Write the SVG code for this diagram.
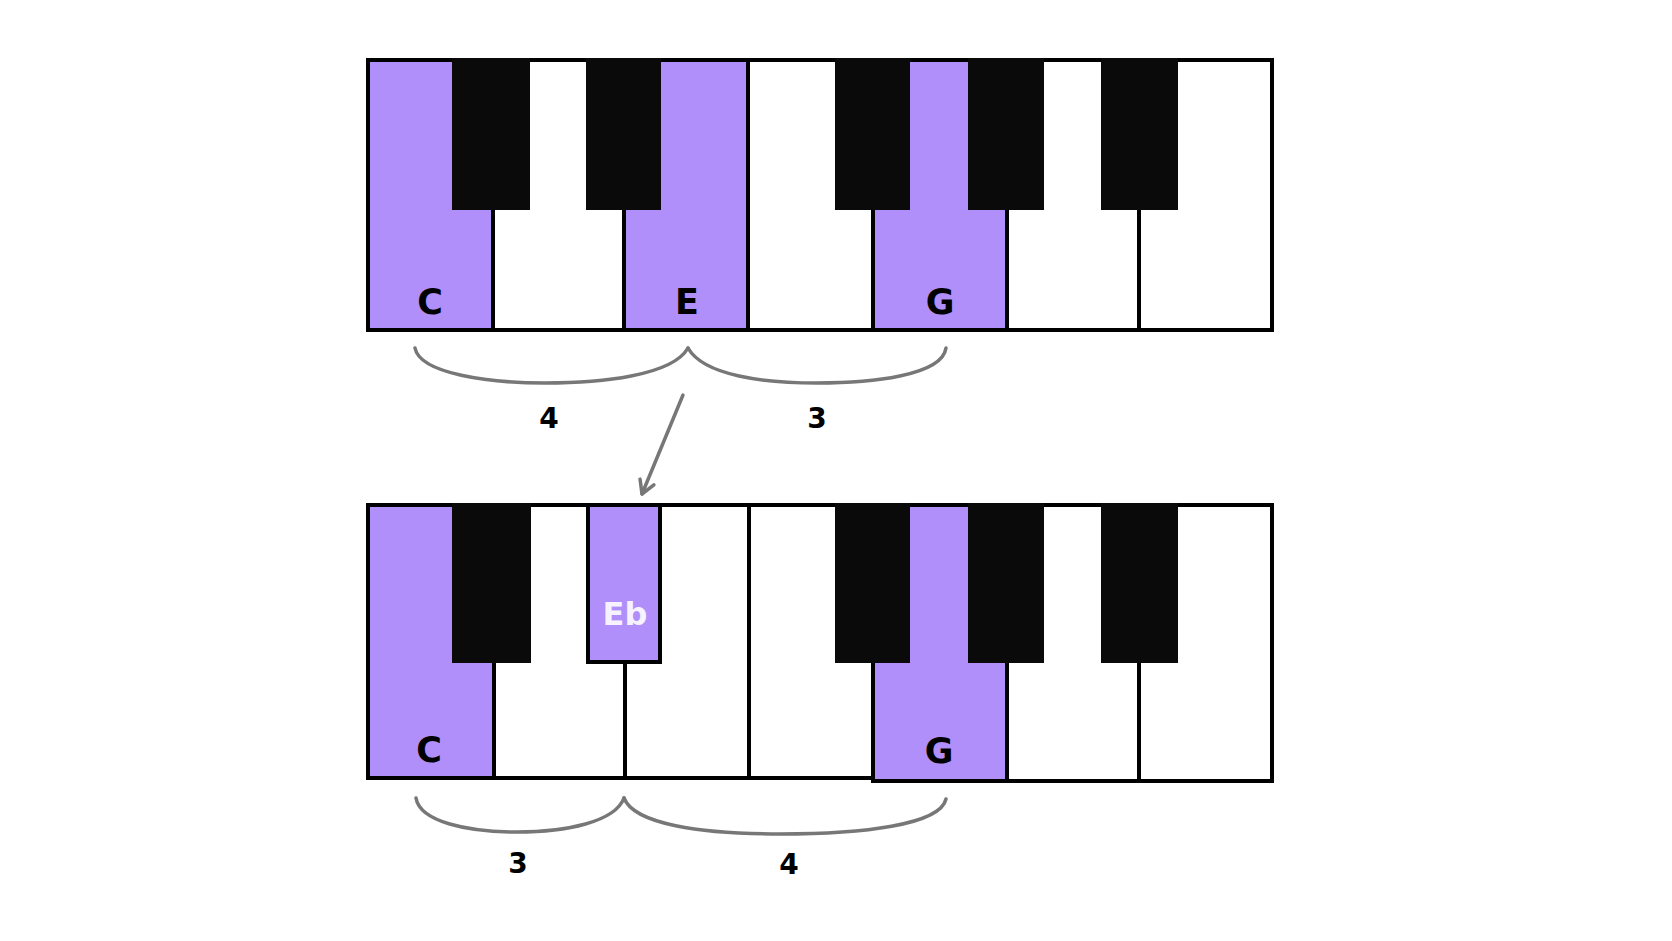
<svg xmlns="http://www.w3.org/2000/svg" width="1672" height="941" viewBox="0 0 1672 941">
<style>
.w{fill:#ffffff;stroke:#000;stroke-width:4}
.p{fill:#b08ffa;stroke:#000;stroke-width:4}
.b{fill:#0a0a0a}
.brace{fill:none;stroke:#777;stroke-width:3.5;stroke-linecap:round}
.note{font-family:"DejaVu Sans",sans-serif;font-weight:bold;font-size:35px;fill:#000;text-anchor:middle}
.num{font-family:"DejaVu Sans",sans-serif;font-weight:bold;font-size:28px;fill:#000;text-anchor:middle}
.eb{font-family:"DejaVu Sans",sans-serif;font-weight:bold;font-size:32px;fill:#f6f2ff;text-anchor:middle}
</style>
<defs>
<marker id="ah" markerUnits="userSpaceOnUse" viewBox="-18 -12 22 24" markerWidth="22" markerHeight="24" refX="0" refY="0" orient="auto" overflow="visible">
<path d="M-13,-7.5 L0,0 L-13,7.5" fill="none" stroke="#777" stroke-width="3.5" stroke-linecap="round" stroke-linejoin="round"/>
</marker>
</defs>
<rect width="1672" height="941" fill="#fff"/>

<g id="top-keyboard">
<rect class="p" x="368" y="60" width="125" height="270"/>
<rect class="w" x="493" y="60" width="131" height="270"/>
<rect class="p" x="624" y="60" width="124" height="270"/>
<rect class="w" x="748" y="60" width="125" height="270"/>
<rect class="p" x="873" y="60" width="134" height="270"/>
<rect class="w" x="1007" y="60" width="132" height="270"/>
<rect class="w" x="1139" y="60" width="133" height="270"/>
<rect class="b" x="452" y="58" width="78" height="152"/>
<rect class="b" x="586" y="58" width="75" height="152"/>
<rect class="b" x="835" y="58" width="75" height="152"/>
<rect class="b" x="968" y="58" width="76" height="152"/>
<rect class="b" x="1101" y="58" width="77" height="152"/>
<text class="note" x="430" y="314">C</text>
<text class="note" x="687" y="314">E</text>
<text class="note" x="940" y="314">G</text>
</g>

<g id="top-intervals">
<path class="brace" d="M415,348 C420,374 490,383 545,383 C600,383 672,376 688,348"/>
<path class="brace" d="M688,348 C704,376 765,383 817,383 C870,383 942,376 946,348"/>
<text class="num" x="549" y="428">4</text>
<text class="num" x="817" y="428">3</text>
</g>

<g id="connectors">
<line x1="683" y1="395" x2="642" y2="494" stroke="#777" stroke-width="3.5" stroke-linecap="round" marker-end="url(#ah)"/>
</g>

<g id="bottom-keyboard">
<rect class="p" x="368" y="505" width="126" height="273"/>
<rect class="w" x="494" y="505" width="131" height="273"/>
<rect class="w" x="625" y="505" width="124" height="273"/>
<rect class="w" x="749" y="505" width="124" height="273"/>
<rect class="p" x="873" y="505" width="134" height="276"/>
<rect class="w" x="1007" y="505" width="132" height="276"/>
<rect class="w" x="1139" y="505" width="133" height="276"/>
<rect class="b" x="452" y="503" width="79" height="160"/>
<rect class="p" x="588" y="505" width="72" height="157"/>
<rect class="b" x="835" y="503" width="75" height="160"/>
<rect class="b" x="968" y="503" width="76" height="160"/>
<rect class="b" x="1101" y="503" width="77" height="160"/>
<text class="note" x="429" y="762">C</text>
<text class="eb" x="625" y="625">Eb</text>
<text class="note" x="939" y="763">G</text>
</g>

<g id="bottom-intervals">
<path class="brace" d="M416,798 C420,822 468,832 517,832 C566,832 615,822 624,798"/>
<path class="brace" d="M624,798 C634,824 700,834 780,834 C862,834 940,825 946,799"/>
<text class="num" x="518" y="873">3</text>
<text class="num" x="789" y="874">4</text>
</g>
</svg>
